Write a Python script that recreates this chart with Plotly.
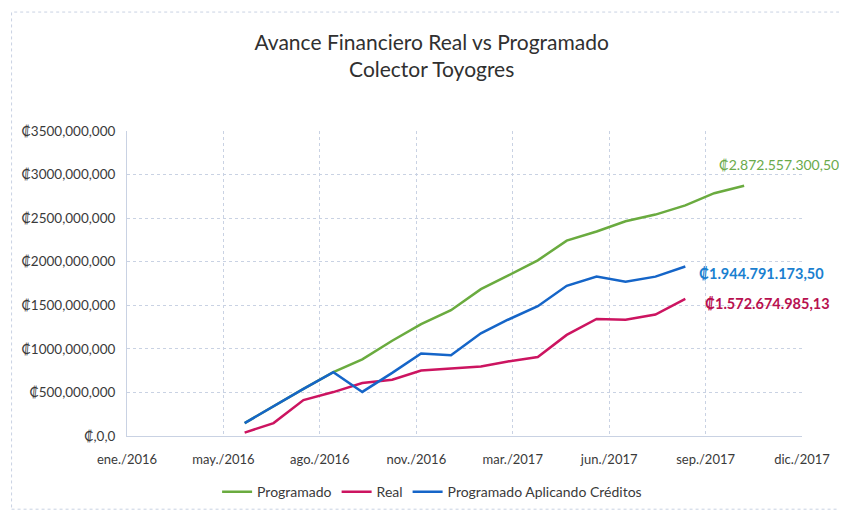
import plotly.graph_objects as go
import pandas as pd

# ---- data ----
months_prog = pd.date_range("2016-06-01", periods=18, freq="MS")
months_real = months_prog[:16]

programado = [148_000_000, 342_000_000, 540_000_000, 732_000_000, 880_000_000,
              1_093_000_000, 1_283_000_000, 1_444_000_000, 1_685_000_000,
              1_840_000_000, 2_016_000_000, 2_242_000_000, 2_347_000_000,
              2_464_000_000, 2_541_000_000, 2_647_000_000, 2_786_000_000,
              2_872_557_300.50]
real = [39_000_000, 148_000_000, 412_000_000, 504_000_000, 607_000_000,
        646_000_000, 751_000_000, 778_000_000, 798_000_000, 856_000_000,
        907_000_000, 1_160_000_000, 1_343_000_000, 1_335_000_000,
        1_394_000_000, 1_572_674_985.13]
creditos = [148_000_000, 342_000_000, 540_000_000, 732_000_000, 506_000_000,
            724_000_000, 946_000_000, 927_000_000, 1_179_000_000,
            1_334_000_000, 1_490_000_000, 1_724_000_000, 1_829_000_000,
            1_770_000_000, 1_829_000_000, 1_944_791_173.50]

x_tick_dates = ["2016-01-31", "2016-05-10", "2016-08-18", "2016-11-26",
                "2017-03-06", "2017-06-14", "2017-09-22", "2017-12-31"]
x_tick_labels = ["ene./2016", "may./2016", "ago./2016", "nov./2016",
                 "mar./2017", "jun./2017", "sep./2017", "dic./2017"]
y_tick_vals = [0, 500_000_000, 1_000_000_000, 1_500_000_000, 2_000_000_000,
               2_500_000_000, 3_000_000_000, 3_500_000_000]
y_tick_labels = ["₡,0,0", "₡500,000,000", "₡1000,000,000", "₡1500,000,000",
                 "₡2000,000,000", "₡2500,000,000", "₡3000,000,000",
                 "₡3500,000,000"]

label_prog = "₡2.872.557.300,50"
label_cred = "₡1.944.791.173,50"
label_real = "₡1.572.674.985,13"

GREEN = "#6aab3f"
RED = "#cc1460"
BLUE = "#1565c8"
FONT = "Lato, 'Open Sans', 'DejaVu Sans', sans-serif"
TXT = "#3a3a3a"

fig = go.Figure()
fig.add_trace(go.Scatter(x=months_prog, y=programado, mode="lines",
                         name="Programado", line=dict(color=GREEN, width=2.5)))
fig.add_trace(go.Scatter(x=months_real, y=real, mode="lines",
                         name="Real", line=dict(color=RED, width=2.5)))
fig.add_trace(go.Scatter(x=months_real, y=creditos, mode="lines",
                         name="Programado Aplicando Créditos",
                         line=dict(color=BLUE, width=2.5)))

# page body has an 8px margin, so the figure is drawn 8px right and down
fig.update_layout(
    width=839, height=506,
    margin=dict(l=119, r=45, t=123, b=78, autoexpand=False),
    paper_bgcolor="white", plot_bgcolor="white",
    font=dict(family=FONT, size=13, color=TXT),
    title=dict(text="Avance Financiero Real vs Programado<br>Colector Toyogres",
               x=0.505, xanchor="center", y=0.917, yanchor="middle",
               font=dict(family=FONT, size=21, color="#303030")),
    showlegend=True,
    legend=dict(orientation="h", x=0.452, xanchor="center",
                yref="container", y=0.043, yanchor="middle",
                font=dict(size=14, color=TXT),
                itemwidth=30, tracegroupgap=0),
    xaxis=dict(type="date", range=[x_tick_dates[0], x_tick_dates[-1]],
               tickmode="array", tickvals=x_tick_dates, ticktext=x_tick_labels,
               showgrid=True, gridcolor="#c9d2e3", griddash="dot", gridwidth=1,
               zeroline=False, showline=True, linecolor="#c9d2e3",
               ticks="", ticklabelstandoff=11, automargin=False,
               tickfont=dict(size=13, color=TXT)),
    yaxis=dict(range=[0, 3_500_000_000], tickmode="array",
               tickvals=y_tick_vals, ticktext=y_tick_labels,
               showgrid=True, gridcolor="#c9d2e3", griddash="dot", gridwidth=1,
               zeroline=False, showline=True, linecolor="#c9d2e3",
               ticks="", ticklabelstandoff=8, automargin=False,
               tickfont=dict(size=13.5, color=TXT)),
)

fig.add_annotation(x=months_prog[-1], y=programado[-1], text=label_prog,
                   showarrow=False, xanchor="left", yanchor="middle",
                   xshift=-27, yshift=21,
                   font=dict(family=FONT, size=14, color="#6aaa4a"))
fig.add_annotation(x=months_real[-1], y=creditos[-1], text="<b>" + label_cred + "</b>",
                   showarrow=False, xanchor="left", yanchor="middle",
                   xshift=12, yshift=-7,
                   font=dict(family=FONT, size=14.5, color="#1a80d0"))
fig.add_annotation(x=months_real[-1], y=real[-1], text="<b>" + label_real + "</b>",
                   showarrow=False, xanchor="left", yanchor="middle",
                   xshift=18, yshift=-5,
                   font=dict(family=FONT, size=14.5, color="#b8104f"))

fig.add_shape(type="rect", xref="paper", yref="paper",
              x0=-0.171, x1=1.056, y0=-0.24, y1=1.39,
              line=dict(color="#c9d2e3", width=1, dash="dot"), layer="below")

fig.write_html("out.html")
